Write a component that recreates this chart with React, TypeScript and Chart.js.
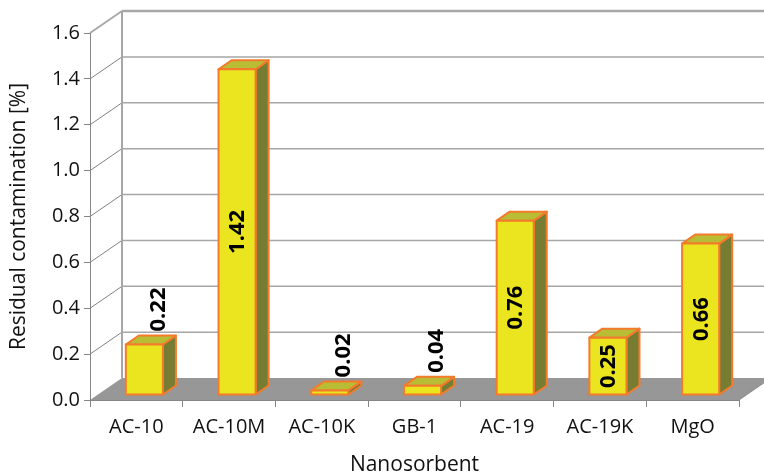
import React, { useEffect, useRef } from "react";
import { Chart, registerables } from "chart.js";

Chart.register(...registerables);

// Residual contamination per nanosorbent
const categories = ["AC-10", "AC-10M", "AC-10K", "GB-1", "AC-19", "AC-19K", "MgO"];
const contamination = [0.22, 1.42, 0.02, 0.04, 0.76, 0.25, 0.66];

const Y_MIN = 0;
const Y_MAX = 1.6;
const Y_STEP = 0.2;

const FONT = "'Open Sans', 'Liberation Sans', sans-serif";
const TEXT = "#111111";
const AXIS = "#868686";

// 3D geometry (pixels) of the walls and boxes
const WALL = { dx: 32, dy: -22 };
const BAR_SHIFT = { dx: 8, dy: -5 };
const BAR_DEPTH = { dx: 13, dy: -9 };

const FACE_FRONT = "#ebe51f";
const FACE_TOP = "#b9bd34";
const FACE_SIDE = "#767c31";
const BAR_EDGE = "#f47a2c";

const scene3d = {
  id: "scene3d",
  beforeDraw(chart: any) {
    const { ctx, chartArea: a, scales } = chart;
    const y = scales.y;
    ctx.save();

    // back wall + left wall grid lines
    const values: number[] = y.ticks.map((t: any) => t.value);
    values.forEach((v) => {
      if (v === Y_MIN) return;
      const py = y.getPixelForValue(v);
      const top = v >= Y_MAX - 1e-9;
      ctx.strokeStyle = top ? "#a8a8a8" : "#a6a6a6";
      ctx.lineWidth = top ? 2.5 : 1.5;
      ctx.beginPath();
      ctx.moveTo(a.left + WALL.dx, py + WALL.dy);
      ctx.lineTo(chart.width, py + WALL.dy);
      ctx.stroke();

      ctx.strokeStyle = top ? "#a8a8a8" : "#4a4a4a";
      ctx.lineWidth = top ? 2 : 0.7;
      ctx.beginPath();
      ctx.moveTo(a.left, py);
      ctx.lineTo(a.left + WALL.dx, py + WALL.dy);
      ctx.stroke();
    });

    // back wall left edge
    ctx.strokeStyle = "#a6a6a6";
    ctx.lineWidth = 2;
    ctx.beginPath();
    ctx.moveTo(a.left + WALL.dx, y.getPixelForValue(Y_MAX) + WALL.dy);
    ctx.lineTo(a.left + WALL.dx, a.bottom + WALL.dy);
    ctx.stroke();

    // floor
    ctx.fillStyle = "#979797";
    ctx.beginPath();
    ctx.moveTo(a.left, a.bottom);
    ctx.lineTo(a.right, a.bottom);
    ctx.lineTo(a.right + WALL.dx, a.bottom + WALL.dy);
    ctx.lineTo(a.left + WALL.dx, a.bottom + WALL.dy);
    ctx.closePath();
    ctx.fill();
    ctx.strokeStyle = "#8a8a8a";
    ctx.lineWidth = 1;
    ctx.beginPath();
    ctx.moveTo(a.right, a.bottom);
    ctx.lineTo(a.right + WALL.dx, a.bottom + WALL.dy);
    ctx.stroke();

    ctx.restore();
  },
  afterDatasetsDraw(chart: any) {
    const { ctx } = chart;
    const meta = chart.getDatasetMeta(0);
    const values = chart.data.datasets[0].data as number[];
    ctx.save();
    ctx.lineJoin = "round";
    ctx.lineWidth = 2;
    ctx.strokeStyle = BAR_EDGE;

    meta.data.forEach((bar: any, i: number) => {
      const { x, y, base, width } = bar.getProps(["x", "y", "base", "width"], true);
      const l = x - width / 2 + BAR_SHIFT.dx;
      const r = x + width / 2 + BAR_SHIFT.dx;
      const t = y + BAR_SHIFT.dy;
      const b = base + BAR_SHIFT.dy;
      const dx = BAR_DEPTH.dx;
      const dy = BAR_DEPTH.dy;

      const poly = (pts: number[][], fill: string) => {
        ctx.beginPath();
        ctx.moveTo(pts[0][0], pts[0][1]);
        for (let k = 1; k < pts.length; k++) ctx.lineTo(pts[k][0], pts[k][1]);
        ctx.closePath();
        ctx.fillStyle = fill;
        ctx.fill();
        ctx.stroke();
      };

      poly([[r, t], [r + dx, t + dy], [r + dx, b + dy], [r, b]], FACE_SIDE);
      poly([[l, t], [l + dx, t + dy], [r + dx, t + dy], [r, t]], FACE_TOP);
      poly([[l, t], [r, t], [r, b], [l, b]], FACE_FRONT);

      // value label, rotated
      const text = values[i].toFixed(2);
      ctx.font = `bold 22px ${FONT}`;
      ctx.fillStyle = "#000000";
      const tw = ctx.measureText(text).width;
      const h = b - t;
      ctx.save();
      if (tw + 8 < h) {
        ctx.translate((l + r) / 2, (t + b) / 2);
        ctx.rotate(-Math.PI / 2);
        ctx.textAlign = "center";
        ctx.textBaseline = "middle";
        ctx.fillText(text, 0, 1);
      } else {
        ctx.translate((l + r) / 2 + dx, t + dy - 4);
        ctx.rotate(-Math.PI / 2);
        ctx.textAlign = "left";
        ctx.textBaseline = "middle";
        ctx.fillText(text, 0, 1);
      }
      ctx.restore();
    });
    ctx.restore();
  },
};

export default function App() {
  const ref = useRef<HTMLCanvasElement>(null);

  useEffect(() => {
    if (!ref.current) return;
    Chart.defaults.font.family = FONT;
    const chart = new Chart(ref.current, {
      type: "bar",
      data: {
        labels: categories,
        datasets: [
          {
            data: contamination,
            backgroundColor: "rgba(0,0,0,0)",
            borderWidth: 0,
            categoryPercentage: 1,
            barPercentage: 0.4,
          },
        ],
      },
      options: {
        responsive: false,
        animation: false,
        layout: { padding: { top: 33, right: 25, left: 0, bottom: 0 } },
        plugins: {
          legend: { display: false },
          tooltip: { enabled: false },
        },
        scales: {
          x: {
            offset: true,
            grid: {
              display: true,
              offset: true,
              drawOnChartArea: false,
              drawTicks: true,
              tickLength: 7,
              color: AXIS,
              lineWidth: 1,
            },
            border: { display: true, color: AXIS, width: 1 },
            ticks: {
              color: TEXT,
              font: { size: 20 },
              padding: 8,
              maxRotation: 0,
              autoSkip: false,
            },
            title: {
              display: true,
              text: "Nanosorbent",
              color: TEXT,
              font: { size: 21, lineHeight: 1 },
              padding: { top: 0, bottom: 0 },
            },
            afterFit: (s: any) => {
              s.height = 76;
            },
          },
          y: {
            min: Y_MIN,
            max: Y_MAX,
            grid: {
              drawOnChartArea: false,
              tickLength: 6,
              color: AXIS,
            },
            border: { display: true, color: AXIS, width: 1 },
            ticks: {
              stepSize: Y_STEP,
              padding: 4,
              color: TEXT,
              font: { size: 20 },
              callback: (v: any) => Number(v).toFixed(1),
            },
            title: {
              display: true,
              text: "Residual contamination [%]",
              color: TEXT,
              font: { size: 21, lineHeight: 1 },
              padding: { top: 9, bottom: 0 },
            },
            afterFit: (s: any) => {
              s.width = 90;
            },
          },
        },
      } as any,
      plugins: [scene3d],
    });
    return () => chart.destroy();
  }, []);

  return (
    <div style={{ position: "absolute", left: 0, top: 0, width: 764, height: 476, background: "#ffffff" }}>
      <canvas ref={ref} width={764} height={476} />
    </div>
  );
}
